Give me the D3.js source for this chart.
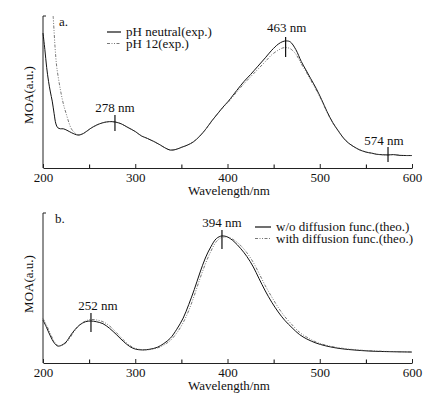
<!DOCTYPE html>
<html>
<head>
<meta charset="utf-8">
<script src="https://cdn.jsdelivr.net/npm/d3@7"></script>
<style>
  body { margin: 0; background: #fff; }
  text { font-family: "Liberation Serif", "Times New Roman", serif; font-size: 13px; fill: #111; }
</style>
</head>
<body>
<svg id="chart" width="435" height="399"></svg>
<script>
// panel a: experimental spectra
const wlA = [200,202,204,206,208,210,212,214,216,219,222,226,231,238,244,251,258,265,272,278,285,291,300,307,313,320,327,333,338,344,351,357,363,370,377,383,389,395,401,410,418,425,433,441,448,455,460,464,468,474,480,485,490,496,502,508,514,520,526,531,537,543,550,556,562,568,574,580,587,594,600];
const neutralA = [0.888,0.78,0.66,0.57,0.50,0.44,0.36,0.29,0.265,0.258,0.258,0.248,0.232,0.217,0.228,0.258,0.282,0.298,0.305,0.303,0.29,0.27,0.24,0.21,0.195,0.175,0.152,0.13,0.118,0.122,0.138,0.152,0.172,0.21,0.26,0.31,0.355,0.40,0.44,0.51,0.57,0.615,0.67,0.725,0.775,0.815,0.832,0.836,0.83,0.78,0.70,0.645,0.59,0.525,0.45,0.37,0.30,0.245,0.195,0.165,0.14,0.12,0.105,0.098,0.09,0.087,0.086,0.088,0.083,0.082,0.082];
const wlB12 = [211,212,213,214,215,217,219,221,223,225,228,231,234,238,244,251,258,265,272,278,285,291,300,307,313,320,327,333,338,344,351,357,363,370,377,383,389,395,401,410,418,425,433,441,448,455,460,464,468,474,480,485,490,496,502,508,514,520,526,531,537,543,550,556,562,568,574,580,587,594,600];
const ph12A = [1.0,0.90,0.80,0.72,0.66,0.58,0.51,0.45,0.40,0.36,0.30,0.255,0.235,0.217,0.228,0.258,0.282,0.298,0.305,0.303,0.29,0.27,0.24,0.21,0.195,0.175,0.152,0.13,0.118,0.122,0.138,0.152,0.172,0.21,0.26,0.31,0.355,0.398,0.435,0.50,0.555,0.60,0.65,0.70,0.745,0.775,0.79,0.792,0.785,0.75,0.685,0.635,0.58,0.515,0.445,0.365,0.298,0.245,0.195,0.165,0.14,0.12,0.105,0.098,0.09,0.087,0.086,0.088,0.083,0.082,0.082];
const peaksA = [278, 463, 574];

// panel b: theoretical spectra
const wlB = [200,204,208,212,216,220,225,230,235,240,246,252,258,265,272,280,287,294,300,308,316,324,331,338,345,352,358,364,370,376,382,388,394,400,407,414,421,428,434,441,448,455,462,470,478,486,496,506,518,531,545,560,580,600];
const noDiffB = [0.287,0.235,0.18,0.135,0.113,0.118,0.14,0.185,0.225,0.255,0.275,0.28,0.275,0.262,0.232,0.187,0.145,0.11,0.093,0.087,0.092,0.105,0.13,0.165,0.225,0.30,0.39,0.49,0.60,0.70,0.775,0.83,0.847,0.84,0.81,0.765,0.71,0.64,0.565,0.48,0.405,0.34,0.285,0.235,0.19,0.16,0.133,0.115,0.10,0.09,0.083,0.078,0.075,0.073];
const diffB = [0.297,0.25,0.195,0.145,0.117,0.117,0.135,0.175,0.22,0.255,0.28,0.29,0.287,0.275,0.248,0.20,0.155,0.117,0.097,0.088,0.09,0.10,0.12,0.15,0.20,0.27,0.35,0.45,0.56,0.66,0.745,0.81,0.838,0.84,0.82,0.785,0.735,0.67,0.60,0.515,0.44,0.37,0.31,0.255,0.205,0.172,0.14,0.12,0.104,0.093,0.085,0.08,0.076,0.074];
const peaksB = [252, 394];

const majorTicks = [200, 300, 400, 500, 600];
const minorTicks = [250, 350, 450, 550];

const svg = d3.select("#chart");
const x = d3.scaleLinear().domain([200, 600]).range([43, 412]);
const dashStyle = "3,1.5,1,1.5,1,1.5";

function panel(cfg) {
  const y = d3.scaleLinear().domain([0, 1]).range([cfg.bottom, cfg.top]);
  const g = svg.append("g");

  const line = d3.line()
    .x(d => x(d[0]))
    .y(d => y(d[1]))
    .curve(d3.curveCatmullRom);

  // x axis, ticks pointing inward
  g.append("g")
    .attr("transform", `translate(0,${cfg.bottom})`)
    .call(d3.axisBottom(x).tickValues(minorTicks).tickSizeInner(-3.5).tickSizeOuter(0).tickFormat(""))
    .call(a => a.select(".domain").remove());
  g.append("g")
    .attr("transform", `translate(0,${cfg.bottom})`)
    .call(d3.axisBottom(x).tickValues(majorTicks).tickSizeInner(-4).tickSizeOuter(0).tickPadding(5))
    .call(a => a.selectAll("text").attr("font-size", 13).attr("font-family", null).attr("fill", null))
    .call(a => a.selectAll("line,path").attr("stroke", "#222"));

  // y axis without labels
  g.append("path")
    .attr("d", `M46,${cfg.top}H43V${cfg.bottom}`)
    .attr("fill", "none").attr("stroke", "#222");

  g.append("text")
    .attr("x", 229).attr("y", cfg.bottom + 27)
    .attr("text-anchor", "middle").text("Wavelength/nm");
  g.append("text")
    .attr("transform", `translate(33,${cfg.ylabelY}) rotate(-90)`)
    .attr("text-anchor", "middle").text("MOA(a.u.)");
  g.append("text").attr("x", cfg.tagX).attr("y", cfg.top + 10).text(cfg.tag);

  cfg.series.forEach(s => {
    g.append("path")
      .datum(d3.zip(s.wl, s.v))
      .attr("fill", "none")
      .attr("stroke", s.dashed ? "#555" : "#111")
      .attr("stroke-width", s.dashed ? 0.8 : 1)
      .attr("stroke-dasharray", s.dashed ? dashStyle : null)
      .attr("d", line);
  });

  // peak markers
  cfg.peaks.forEach(p => {
    g.append("line")
      .attr("x1", x(p.wl)).attr("x2", x(p.wl))
      .attr("y1", p.y1).attr("y2", p.y2)
      .attr("stroke", "#111").attr("stroke-width", 1.2);
    g.append("text")
      .attr("x", x(p.wl) + p.dx).attr("y", p.ty)
      .attr("text-anchor", "middle").text(p.wl + " nm");
  });

  // legend
  cfg.series.forEach((s, i) => {
    const ly = cfg.legY + i * 11.5;
    g.append("line")
      .attr("x1", cfg.legX).attr("x2", cfg.legX + cfg.legW)
      .attr("y1", ly).attr("y2", ly)
      .attr("stroke", s.dashed ? "#555" : "#111")
      .attr("stroke-width", s.dashed ? 0.8 : 1.2)
      .attr("stroke-dasharray", s.dashed ? dashStyle : null);
    g.append("text")
      .attr("x", cfg.legX + cfg.legW + 5).attr("y", ly + 4)
      .text(s.name);
  });
}

panel({
  top: 16, bottom: 168, ylabelY: 95, tag: "a.", tagX: 59,
  series: [
    { name: "pH neutral(exp.)", wl: wlA, v: neutralA, dashed: false },
    { name: "pH 12(exp.)", wl: wlB12, v: ph12A, dashed: true }
  ],
  peaks: [
    { wl: peaksA[0], y1: 115, y2: 131, ty: 112, dx: 0 },
    { wl: peaksA[1], y1: 37, y2: 57, ty: 32, dx: 1 },
    { wl: peaksA[2], y1: 147, y2: 162, ty: 145, dx: -4 }
  ],
  legX: 107, legY: 32, legW: 14
});

panel({
  top: 213, bottom: 363, ylabelY: 284, tag: "b.", tagX: 55,
  series: [
    { name: "w/o diffusion func.(theo.)", wl: wlB, v: noDiffB, dashed: false },
    { name: "with diffusion func.(theo.)", wl: wlB, v: diffB, dashed: true }
  ],
  peaks: [
    { wl: peaksB[0], y1: 313, y2: 332, ty: 310, dx: 7 },
    { wl: peaksB[1], y1: 230, y2: 249, ty: 227, dx: 0 }
  ],
  legX: 255, legY: 227, legW: 16
});
</script>
</body>
</html>
